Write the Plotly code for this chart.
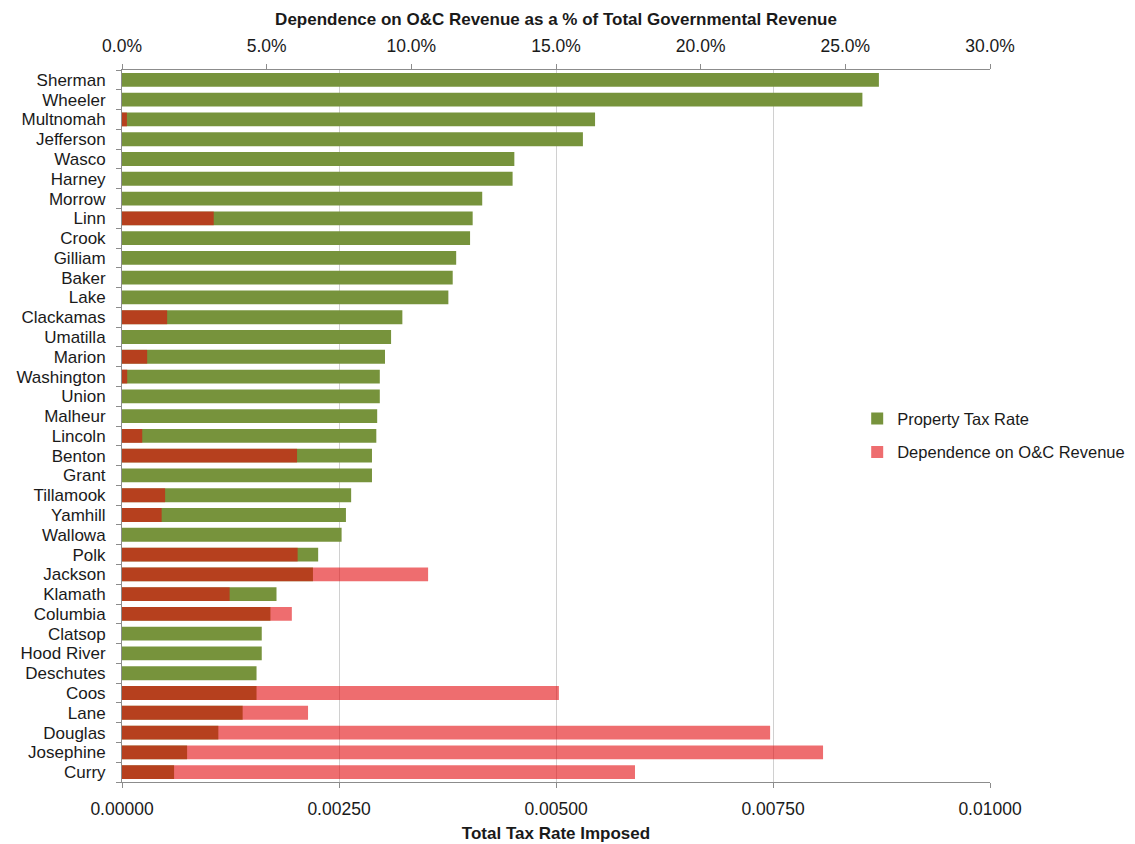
import plotly.graph_objects as go

counties = ["Sherman", "Wheeler", "Multnomah", "Jefferson", "Wasco", "Harney", "Morrow",
            "Linn", "Crook", "Gilliam", "Baker", "Lake", "Clackamas", "Umatilla", "Marion",
            "Washington", "Union", "Malheur", "Lincoln", "Benton", "Grant", "Tillamook",
            "Yamhill", "Wallowa", "Polk", "Jackson", "Klamath", "Columbia", "Clatsop",
            "Hood River", "Deschutes", "Coos", "Lane", "Douglas", "Josephine", "Curry"]

property_tax_rate = [0.00872, 0.00853, 0.00545, 0.00531, 0.00452, 0.00450, 0.00415,
                     0.00404, 0.00401, 0.00385, 0.00381, 0.00376, 0.00323, 0.00310, 0.00303,
                     0.00297, 0.00297, 0.00294, 0.00293, 0.00288, 0.00288, 0.00264,
                     0.00258, 0.00253, 0.00226, 0.00220, 0.00178, 0.00171, 0.00161,
                     0.00161, 0.00155, 0.00155, 0.00139, 0.00111, 0.00075, 0.00060]

oc_dependence = [0.0, 0.0, 0.0017, 0.0, 0.0, 0.0, 0.0,
                 0.0317, 0.0, 0.0, 0.0, 0.0, 0.0156, 0.0, 0.0087,
                 0.0018, 0.0, 0.0, 0.0070, 0.0605, 0.0, 0.0149,
                 0.0137, 0.0, 0.0607, 0.1058, 0.0372, 0.0587, 0.0,
                 0.0, 0.0, 0.1510, 0.0643, 0.2240, 0.2423, 0.1773]

FONT = "Liberation Sans"
TXT = "#1a1a1a"

fig = go.Figure()
fig.add_trace(go.Bar(
    y=counties, x=property_tax_rate, orientation="h", name="Property Tax Rate",
    marker=dict(color="#77933C", line=dict(width=0)), xaxis="x", yaxis="y",
    legendgroup="a",
))
fig.add_trace(go.Bar(
    y=counties, x=oc_dependence, orientation="h", name="Dependence on O&C Revenue",
    marker=dict(color="rgba(226,6,10,0.59)", line=dict(width=0)), xaxis="x2", yaxis="y",
    legendgroup="b",
))

fig.update_layout(
    width=1135, height=844,
    margin=dict(l=122, r=145, t=70, b=62, autoexpand=False),
    paper_bgcolor="white", plot_bgcolor="white",
    barmode="overlay", bargap=0.3,
    font=dict(family=FONT, size=16.5, color=TXT),
    showlegend=True,
    legend=dict(x=0.847, y=0.487, xanchor="left", yanchor="middle",
                font=dict(size=16.5, color=TXT), tracegroupgap=9,
                traceorder="grouped", bgcolor="rgba(0,0,0,0)"),
    xaxis=dict(
        range=[0, 0.01], dtick=0.0025, tickformat=".5f", side="bottom",
        showgrid=True, gridcolor="#d0d0d0", gridwidth=1, zeroline=False,
        showline=True, linecolor="#8c8c8c", linewidth=1,
        ticks="outside", ticklen=5, tickcolor="#8c8c8c", ticklabelstandoff=6,
        tickfont=dict(size=17.5, color=TXT),
        title=dict(text="<b>Total Tax Rate Imposed</b>", font=dict(size=17, color=TXT), standoff=9),
    ),
    xaxis2=dict(
        range=[0, 0.30], dtick=0.05, tickformat=".1%", side="top", overlaying="x",
        showgrid=False, zeroline=False,
        showline=True, linecolor="#8c8c8c", linewidth=1,
        ticks="outside", ticklen=5, tickcolor="#8c8c8c", ticklabelstandoff=5,
        tickfont=dict(size=17.5, color=TXT),
        title=dict(text="<b>Dependence on O&C Revenue as a % of Total Governmental Revenue</b>",
                   font=dict(size=17, color=TXT), standoff=6),
    ),
    yaxis=dict(
        autorange="reversed", showgrid=False, zeroline=False,
        tickmode="array", tickvals=counties, ticktext=counties,
        showline=True, linecolor="#8c8c8c", linewidth=1,
        ticks="outside", ticklen=5, tickcolor="#8c8c8c", tickson="boundaries",
        ticklabelstandoff=12,
        tickfont=dict(size=17, color=TXT),
    ),
)

fig.write_html("out.html")
